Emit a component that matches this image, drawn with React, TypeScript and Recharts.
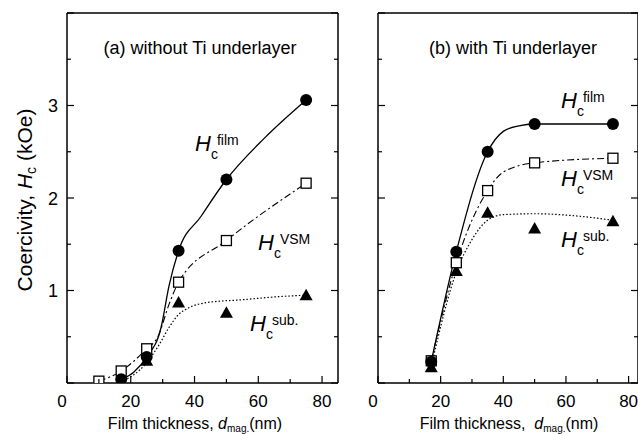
import { ComposedChart, Line, Scatter, XAxis, YAxis } from 'recharts';

const X_TICKS = [0, 10, 20, 30, 40, 50, 60, 70, 80];
const Y_TICKS = [0, 0.5, 1, 1.5, 2, 2.5, 3, 3.5, 4];
const Y_LABELED = [1, 2, 3];

// (a) without Ti underlayer: measured points
const A_FILM_X = [17, 25, 35, 50, 75];
const A_FILM_Y = [0.04, 0.28, 1.43, 2.2, 3.06];
const A_VSM_X = [10, 17, 25, 35, 50, 75];
const A_VSM_Y = [0.02, 0.13, 0.37, 1.09, 1.54, 2.16];
const A_SUB_X = [17, 25, 35, 50, 75];
const A_SUB_Y = [0.01, 0.24, 0.87, 0.76, 0.95];
// (a) guide curves as drawn
const A_FILM_CURVE_X = [17, 21, 25, 29.5, 32, 35, 42, 50, 62, 75];
const A_FILM_CURVE_Y = [0.04, 0.12, 0.28, 0.6, 1.05, 1.43, 1.8, 2.2, 2.65, 3.06];
const A_VSM_CURVE_X = [10, 17, 25, 28.5, 32, 35, 50, 75];
const A_VSM_CURVE_Y = [0.02, 0.13, 0.37, 0.5, 0.85, 1.09, 1.54, 2.16];
const A_SUB_CURVE_X = [17, 25, 29, 32, 35, 38, 44, 55, 65, 75];
const A_SUB_CURVE_Y = [0.01, 0.22, 0.42, 0.6, 0.74, 0.81, 0.87, 0.9, 0.93, 0.95];

// (b) with Ti underlayer: measured points
const B_FILM_X = [17, 25, 35, 50, 75];
const B_FILM_Y = [0.23, 1.42, 2.5, 2.8, 2.8];
const B_VSM_X = [17, 25, 35, 50, 75];
const B_VSM_Y = [0.24, 1.3, 2.08, 2.38, 2.43];
const B_SUB_X = [17, 25, 35, 50, 75];
const B_SUB_Y = [0.17, 1.21, 1.84, 1.67, 1.75];
// (b) guide curves as drawn
const B_FILM_CURVE_X = [17, 25, 35, 40, 45, 50, 75];
const B_FILM_CURVE_Y = [0.23, 1.42, 2.5, 2.72, 2.78, 2.8, 2.8];
const B_VSM_CURVE_X = [17, 25, 35, 40, 50, 75];
const B_VSM_CURVE_Y = [0.24, 1.3, 2.08, 2.28, 2.38, 2.43];
const B_SUB_CURVE_X = [17, 25, 30, 35, 40, 50, 62, 75];
const B_SUB_CURVE_Y = [0.18, 1.2, 1.55, 1.76, 1.82, 1.83, 1.81, 1.76];

const zip = (xs: number[], ys: number[]) => xs.map((x, i) => ({ x, y: ys[i] }));

const FONT = '"Liberation Sans", Arial, sans-serif';

function AxisTick(props: any) {
  const { x, y, payload, side, labels } = props;
  const v = payload.value as number;
  const horiz = side === 'bottom' || side === 'top';
  const major = horiz ? v % 20 === 0 : v % 1 === 0;
  const len = major ? 7 : 4;
  let line;
  if (side === 'bottom') line = <line x1={x} y1={y} x2={x} y2={y - len} />;
  else if (side === 'top') line = <line x1={x} y1={y} x2={x} y2={y + len} />;
  else if (side === 'left') line = <line x1={x} y1={y} x2={x + len} y2={y} />;
  else line = <line x1={x} y1={y} x2={x - len} y2={y} />;
  let label = null;
  if (labels && side === 'bottom' && major) {
    label = (
      <text x={x + (v === 0 ? -5 : 0)} y={y + 24} textAnchor="middle" fontSize={17} fill="#000" stroke="none">
        {v}
      </text>
    );
  }
  if (labels && side === 'left' && Y_LABELED.includes(v)) {
    label = (
      <text x={x - 9} y={y + 6.5} textAnchor="end" fontSize={18} fill="#000" stroke="none">
        {v}
      </text>
    );
  }
  return (
    <g stroke="#000" strokeWidth={1.2} fontFamily={FONT}>
      {line}
      {label}
    </g>
  );
}

const Circle = (p: any) => <circle cx={p.cx} cy={p.cy} r={6} fill="#000" />;
const Square = (p: any) => (
  <rect x={p.cx - 5} y={p.cy - 5} width={10} height={10} fill="#fff" stroke="#000" strokeWidth={1.3} />
);
const Triangle = (p: any) => (
  <polygon
    points={`${p.cx},${p.cy - 6.5} ${p.cx - 6.5},${p.cy + 5} ${p.cx + 6.5},${p.cy + 5}`}
    fill="#000"
  />
);

interface PanelProps {
  left: number;
  width: number;
  margin: { top: number; right: number; bottom: number; left: number };
  xMax: number;
  yLabels: boolean;
  film: { x: number; y: number }[];
  vsm: { x: number; y: number }[];
  sub: { x: number; y: number }[];
  filmCurve: { x: number; y: number }[];
  vsmCurve: { x: number; y: number }[];
  subCurve: { x: number; y: number }[];
}

function Panel(p: PanelProps) {
  const axisLine = { stroke: '#000', strokeWidth: 1.5 };
  return (
    <div style={{ position: 'absolute', left: p.left, top: 0 }}>
      <ComposedChart width={p.width} height={434} margin={p.margin}>
        <XAxis
          xAxisId="b"
          type="number"
          dataKey="x"
          domain={[0, p.xMax]}
          allowDataOverflow
          ticks={X_TICKS}
          interval={0}
          height={1}
          tickSize={0}
          tickMargin={0}
          tickLine={false}
          axisLine={axisLine}
          tick={(t: any) => <AxisTick {...t} side="bottom" labels />}
        />
        <XAxis
          xAxisId="t"
          orientation="top"
          type="number"
          domain={[0, p.xMax]}
          allowDataOverflow
          ticks={X_TICKS}
          interval={0}
          height={1}
          tickSize={0}
          tickMargin={0}
          tickLine={false}
          axisLine={axisLine}
          tick={(t: any) => <AxisTick {...t} side="top" />}
        />
        <YAxis
          yAxisId="l"
          type="number"
          domain={[0, 4]}
          allowDataOverflow
          ticks={Y_TICKS}
          interval={0}
          width={1}
          tickSize={0}
          tickMargin={0}
          tickLine={false}
          axisLine={axisLine}
          tick={(t: any) => <AxisTick {...t} side="left" labels={p.yLabels} />}
        />
        <YAxis
          yAxisId="r"
          orientation="right"
          type="number"
          domain={[0, 4]}
          allowDataOverflow
          ticks={Y_TICKS}
          interval={0}
          width={1}
          tickSize={0}
          tickMargin={0}
          tickLine={false}
          axisLine={axisLine}
          tick={(t: any) => <AxisTick {...t} side="right" />}
        />
        <Line
          xAxisId="b"
          yAxisId="l"
          data={p.subCurve}
          dataKey="y"
          type="monotone"
          stroke="#000"
          strokeWidth={1.2}
          strokeDasharray="1.5 2"
          dot={false}
          isAnimationActive={false}
        />
        <Line
          xAxisId="b"
          yAxisId="l"
          data={p.vsmCurve}
          dataKey="y"
          type="monotone"
          stroke="#000"
          strokeWidth={1.1}
          strokeDasharray="7 3 2 3"
          dot={false}
          isAnimationActive={false}
        />
        <Line
          xAxisId="b"
          yAxisId="l"
          data={p.filmCurve}
          dataKey="y"
          type="monotone"
          stroke="#000"
          strokeWidth={1.3}
          dot={false}
          isAnimationActive={false}
        />
        <Scatter xAxisId="b" yAxisId="l" data={p.sub} dataKey="y" shape={Triangle} isAnimationActive={false} />
        <Scatter xAxisId="b" yAxisId="l" data={p.vsm} dataKey="y" shape={Square} isAnimationActive={false} />
        <Scatter xAxisId="b" yAxisId="l" data={p.film} dataKey="y" shape={Circle} isAnimationActive={false} />
      </ComposedChart>
    </div>
  );
}

function HLabel({ x, y, sup }: { x: number; y: number; sup: string }) {
  return (
    <text x={x} y={y} fontFamily={FONT} fill="#000">
      <tspan fontStyle="italic" fontSize={22}>H</tspan>
      <tspan fontSize={14} dx={0} dy={8}>c</tspan>
      <tspan fontSize={14} dx={-1} dy={-14}>{sup}</tspan>
    </text>
  );
}

export default function App() {
  return (
    <div style={{ position: 'absolute', left: 0, top: 0, width: 638, height: 434, background: '#fff', overflow: 'hidden' }}>
      <Panel
        left={0}
        width={345}
        margin={{ top: 12, right: 6, bottom: 50, left: 66 }}
        xMax={85}
        yLabels
        film={zip(A_FILM_X, A_FILM_Y)}
        vsm={zip(A_VSM_X, A_VSM_Y)}
        sub={zip(A_SUB_X, A_SUB_Y)}
        filmCurve={zip(A_FILM_CURVE_X, A_FILM_CURVE_Y)}
        vsmCurve={zip(A_VSM_CURVE_X, A_VSM_CURVE_Y)}
        subCurve={zip(A_SUB_CURVE_X, A_SUB_CURVE_Y)}
      />
      <Panel
        left={345}
        width={294}
        margin={{ top: 12, right: 0, bottom: 50, left: 32 }}
        xMax={83}
        yLabels={false}
        film={zip(B_FILM_X, B_FILM_Y)}
        vsm={zip(B_VSM_X, B_VSM_Y)}
        sub={zip(B_SUB_X, B_SUB_Y)}
        filmCurve={zip(B_FILM_CURVE_X, B_FILM_CURVE_Y)}
        vsmCurve={zip(B_VSM_CURVE_X, B_VSM_CURVE_Y)}
        subCurve={zip(B_SUB_CURVE_X, B_SUB_CURVE_Y)}
      />
      <svg width={638} height={434} style={{ position: 'absolute', left: 0, top: 0, pointerEvents: 'none' }}>
        <text x={200} y={54} textAnchor="middle" fontFamily={FONT} fontSize={18} fill="#000">
          (a) without Ti underlayer
        </text>
        <text x={513} y={54} textAnchor="middle" fontFamily={FONT} fontSize={18} fill="#000">
          (b) with Ti underlayer
        </text>
        <text transform="rotate(-90)" x={-200} y={32} textAnchor="middle" fontFamily={FONT} fontSize={21} fill="#000">
          Coercivity,{'\u00a0'}
          <tspan fontStyle="italic">H</tspan>
          <tspan fontSize={14} dy={4}>c</tspan>
          <tspan dy={-4}> (kOe)</tspan>
        </text>
        <text x={195} y={429} textAnchor="middle" fontFamily={FONT} fontSize={16} fill="#000">
          Film thickness,{'\u00a0'}
          <tspan fontStyle="italic">d</tspan>
          <tspan fontSize={10} dy={3}>mag.</tspan>
          <tspan dy={-3}>(nm)</tspan>
        </text>
        <text x={509} y={429} textAnchor="middle" fontFamily={FONT} fontSize={16} fill="#000">
          Film thickness,{'\u00a0\u00a0'}
          <tspan fontStyle="italic">d</tspan>
          <tspan fontSize={10} dy={3}>mag.</tspan>
          <tspan dy={-3}>(nm)</tspan>
        </text>
        <HLabel x={195} y={151} sup="film" />
        <HLabel x={258} y={250} sup="VSM" />
        <HLabel x={250} y={331} sup="sub." />
        <HLabel x={561} y={108} sup="film" />
        <HLabel x={561} y={186} sup="VSM" />
        <HLabel x={561} y={247} sup="sub." />
      </svg>
    </div>
  );
}
